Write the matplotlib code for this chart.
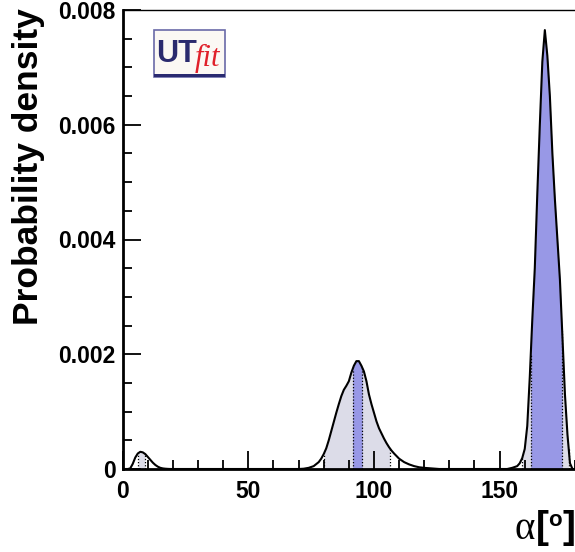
import numpy as np
import matplotlib
matplotlib.use("Agg")
import matplotlib.pyplot as plt
from matplotlib.patches import Rectangle
from matplotlib.ticker import MultipleLocator

# ---- data ----
alpha_deg = [0, 2, 3, 4, 5, 6, 7, 8, 9, 10, 11, 12, 13, 14, 15, 16, 17, 18, 19,
             70, 72, 74, 76, 78, 79, 80, 81, 82, 83, 84, 85, 86, 87, 88, 89, 90,
             91, 92, 93, 94, 95, 96, 97, 98, 99, 100, 101, 102, 103, 104, 105,
             106, 107, 108, 110, 112, 114, 116, 118, 120, 123, 126,
             150, 153, 155, 157, 158, 159, 160, 161, 162, 163, 164, 165, 166,
             167, 168, 169, 170, 171, 172, 173, 174, 175, 176, 177, 178, 179, 180]
density = [0, 0, 0.00001, 0.00009, 0.00020, 0.00027, 0.00030, 0.00029, 0.00026,
           0.00021, 0.00016, 0.00011, 0.00007, 0.00004, 0.00002, 0.00001,
           0.000005, 0.000002, 0,
           0, 0.000005, 0.00002, 0.00005, 0.00012, 0.00018, 0.00026, 0.00036,
           0.00050, 0.00066, 0.00082, 0.00098, 0.00113, 0.00127, 0.00138,
           0.00145, 0.00153, 0.00168, 0.00180, 0.00188, 0.00188, 0.00180,
           0.00170, 0.00153, 0.00130, 0.00113, 0.00098, 0.00083, 0.00071,
           0.00062, 0.00053, 0.00045, 0.00038, 0.00032, 0.00027, 0.00018,
           0.00012, 0.00008, 0.00005, 0.00003, 0.00002, 0.00001, 0,
           0, 0, 0.00002, 0.00005, 0.00010, 0.00019, 0.00035, 0.00075, 0.00160,
           0.00260, 0.00350, 0.00480, 0.00600, 0.00710, 0.00765, 0.00720,
           0.00650, 0.00550, 0.00470, 0.00400, 0.00330, 0.00230, 0.00130,
           0.00060, 0.00010, 0, 0]

# credible intervals (degrees)
band95 = [(6.2, 8.9), (80.2, 106.2), (159.0, 177.5)]
band68 = [(91.5, 95.3), (162.4, 174.9)]

x_ticks = [0, 50, 100, 150]
x_ticklabels = ["0", "50", "100", "150"]
y_ticks = [0, 0.002, 0.004, 0.006, 0.008]
y_ticklabels = ["0", "0.002", "0.004", "0.006", "0.008"]

light_col = "#dcdce8"
dark_col = "#9898e6"

x = np.array(alpha_deg, float)
y = np.array(density, float)

fig = plt.figure(figsize=(5.75, 5.52), dpi=100)
ax = fig.add_axes([122.7 / 575, 83 / 552, 452.3 / 575, 459 / 552])


def fill_band(lo, hi, color, z):
    inside = (x > lo) & (x < hi)
    xs = np.concatenate([[lo], x[inside], [hi]])
    ys = np.interp(xs, x, y)
    ax.fill_between(xs, 0, ys, color=color, lw=0, zorder=z)
    for e in (lo, hi):
        ax.plot([e, e], [0, np.interp(e, x, y)], color="black", lw=0.9,
                ls=(0, (1, 1.5)), zorder=z + 0.5)


for lo, hi in band95:
    fill_band(lo, hi, light_col, 1)
for lo, hi in band68:
    fill_band(lo, hi, dark_col, 2)

ax.plot(x, y, color="black", lw=1.5, zorder=4)

ax.set_xlim(0, 180)
ax.set_ylim(0, 0.008)

for s in ("left", "bottom"):
    ax.spines[s].set_linewidth(2)
ax.spines["top"].set_linewidth(1)
ax.spines["right"].set_visible(False)

ax.xaxis.set_minor_locator(MultipleLocator(10))
ax.yaxis.set_minor_locator(MultipleLocator(0.0005))
ax.tick_params(which="both", direction="in", top=False, right=False,
               width=1.3, color="black")
ax.tick_params(which="major", length=13)
ax.tick_params(which="minor", length=6.5)
ax.tick_params(axis="x", pad=8)
ax.tick_params(axis="y", pad=5)

ax.set_xticks(x_ticks)
ax.set_xticklabels(x_ticklabels)
ax.set_yticks(y_ticks)
ax.set_yticklabels(y_ticklabels)
for lab in ax.get_xticklabels() + ax.get_yticklabels():
    lab.set_fontfamily("Liberation Sans")
    lab.set_fontweight("bold")
    lab.set_fontsize(16.5)

fig.text(29 / 575, 1 - 8 / 552, "Probability density", rotation=90,
         ha="center", va="top", fontsize=25.5, fontweight="bold",
         family="Liberation Sans")

# x-axis title  α[°]
fig.text(515 / 575, 1 - 539 / 552, "α", ha="left", va="baseline",
         fontsize=28, family="Liberation Serif")
fig.text(536 / 575, 1 - 538 / 552, "[", ha="left", va="baseline",
         fontsize=28, fontweight="bold", family="Liberation Sans")
fig.text(575 / 575, 1 - 538 / 552, "]", ha="right", va="baseline",
         fontsize=28, fontweight="bold", family="Liberation Sans")
fig.text(555 / 575, 1 - 510 / 552, "o", ha="center", va="top",
         fontsize=16, fontweight="bold", family="Liberation Sans")

# UTfit logo
lx0, ly0, lw, lh = 153.5 / 575, 1 - 77 / 552, 71 / 575, 47 / 552
fig.patches.append(Rectangle((lx0, ly0), lw, lh, transform=fig.transFigure,
                             facecolor="#fbf8f4", edgecolor="#6a6aa8", lw=1.2,
                             zorder=10))
fig.patches.append(Rectangle((lx0, ly0), lw, 3 / 552, transform=fig.transFigure,
                             facecolor="#2a2a70", edgecolor="none", zorder=11))
fig.text(156 / 575, 1 - 62 / 552, "UT", ha="left", va="baseline",
         fontsize=22, fontweight="bold", family="Liberation Sans",
         color="#2a2a6e", zorder=12)
fig.text(195 / 575, 1 - 66 / 552, "fit", ha="left", va="baseline",
         fontsize=22, style="italic", family="Liberation Serif",
         color="#e0202a", zorder=12)

fig.savefig("out.png", dpi=100)
